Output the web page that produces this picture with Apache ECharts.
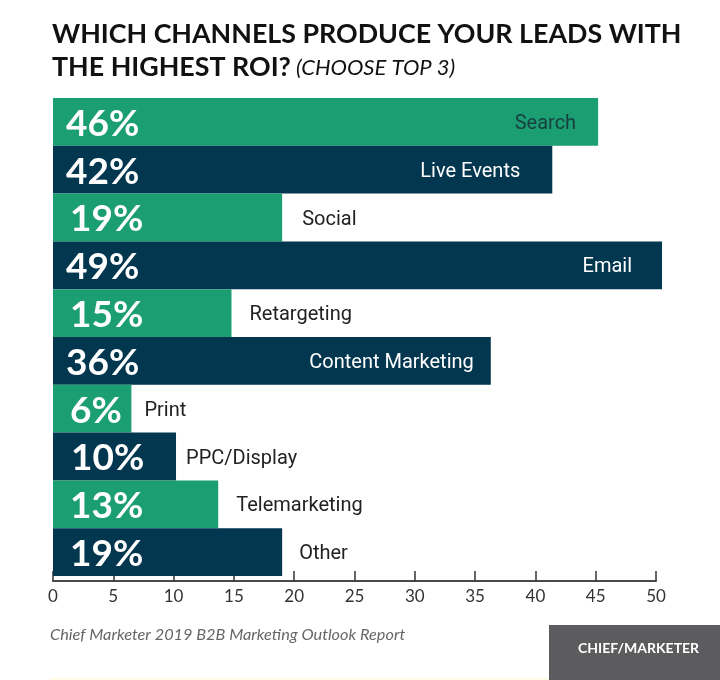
<!DOCTYPE html>
<html>
<head>
<meta charset="utf-8">
<style>html,body{margin:0;padding:0;background:#fff}#chart{width:720px;height:680px}</style>
<script src="https://cdn.jsdelivr.net/npm/echarts@6/dist/echarts.min.js"></script>
</head>
<body>
<div id="chart"></div>
<script>
// values
var channels = ['Search','Live Events','Social','Email','Retargeting','Content Marketing','Print','PPC/Display','Telemarketing','Other'];
var barLengths = [45.2,41.4,19,50.5,14.8,36.3,6.5,10.2,13.7,19];
var percentLabels = ['46%','42%','19%','49%','15%','36%','6%','10%','13%','19%'];
var barColors = ['#1b9e72','#03374f','#1b9e72','#03374f','#1b9e72','#03374f','#1b9e72','#03374f','#1b9e72','#03374f'];
var insideName = [true,true,false,true,false,true,false,false,false,false];
var nameGap = [22,32,20,30,18,17,13,10,18,17];
var pctGap = [13,13,17,13,17,13,17,18,17,17];
var font = 'Lato';

var chart = echarts.init(document.getElementById('chart'));

var pctData = barLengths.map(function (v, i) {
    return {
        value: v,
        itemStyle: {color: barColors[i]},
        label: {formatter: percentLabels[i], distance: pctGap[i]}
    };
});
var nameData = barLengths.map(function (v, i) {
    return {
        value: v,
        label: {
            formatter: channels[i],
            position: insideName[i] ? 'insideRight' : 'right',
            distance: nameGap[i],
            color: i === 0 ? '#17403f' : (insideName[i] ? '#fff' : '#222')
        }
    };
});

chart.setOption({
    animation: false,
    title: {
        left: 47, top: 13,
        text: '{a|WHICH CHANNELS PRODUCE YOUR LEADS WITH}\n{a|THE HIGHEST ROI?} {b|(CHOOSE TOP 3)}',
        textStyle: {
            rich: {
                a: {fontFamily: font, fontWeight: 'bold', fontSize: 26.8, lineHeight: 33, color: '#111'},
                b: {fontFamily: font, fontStyle: 'italic', fontWeight: 'normal', fontSize: 22, lineHeight: 33, color: '#111'}
            }
        }
    },
    grid: {left: 53, right: 64, top: 98, bottom: 104},
    xAxis: {
        type: 'value', min: 0, max: 50, interval: 5, offset: 5,
        splitLine: {show: false},
        axisLine: {show: true, lineStyle: {color: '#4a4a4a', width: 2}},
        axisTick: {show: true, inside: true, length: 10, lineStyle: {color: '#333', width: 1.5}},
        axisLabel: {fontFamily: font, fontSize: 17, color: '#333', margin: 7}
    },
    yAxis: {type: 'category', inverse: true, data: channels, show: false},
    series: [
        {
            type: 'bar', barWidth: '100%', barGap: '-100%', clip: false, data: pctData,
            label: {show: true, position: 'insideLeft', offset: [0, 2], fontFamily: font, fontWeight: 'bold', fontSize: 37, color: '#fff'}
        },
        {
            type: 'bar', barWidth: '100%', barGap: '-100%', clip: false, data: nameData,
            itemStyle: {color: 'transparent'},
            label: {show: true, offset: [0, 2], fontFamily: 'Roboto', fontSize: 20}
        }
    ],
    graphic: [
        {type: 'text', left: 50, top: 627, style: {text: 'Chief Marketer 2019 B2B Marketing Outlook Report', font: 'italic 16.3px ' + font, fill: '#666'}},
        {type: 'rect', shape: {x: 549, y: 625, width: 171, height: 55}, style: {fill: '#5c5c5e'}},
        {type: 'rect', shape: {x: 50, y: 678, width: 499, height: 2}, style: {fill: '#fffbe6'}},
        {type: 'text', left: 578, top: 641, style: {text: 'CHIEF/MARKETER', font: 'bold 14px ' + font, fill: '#fff'}}
    ]
});
</script>
</body>
</html>
